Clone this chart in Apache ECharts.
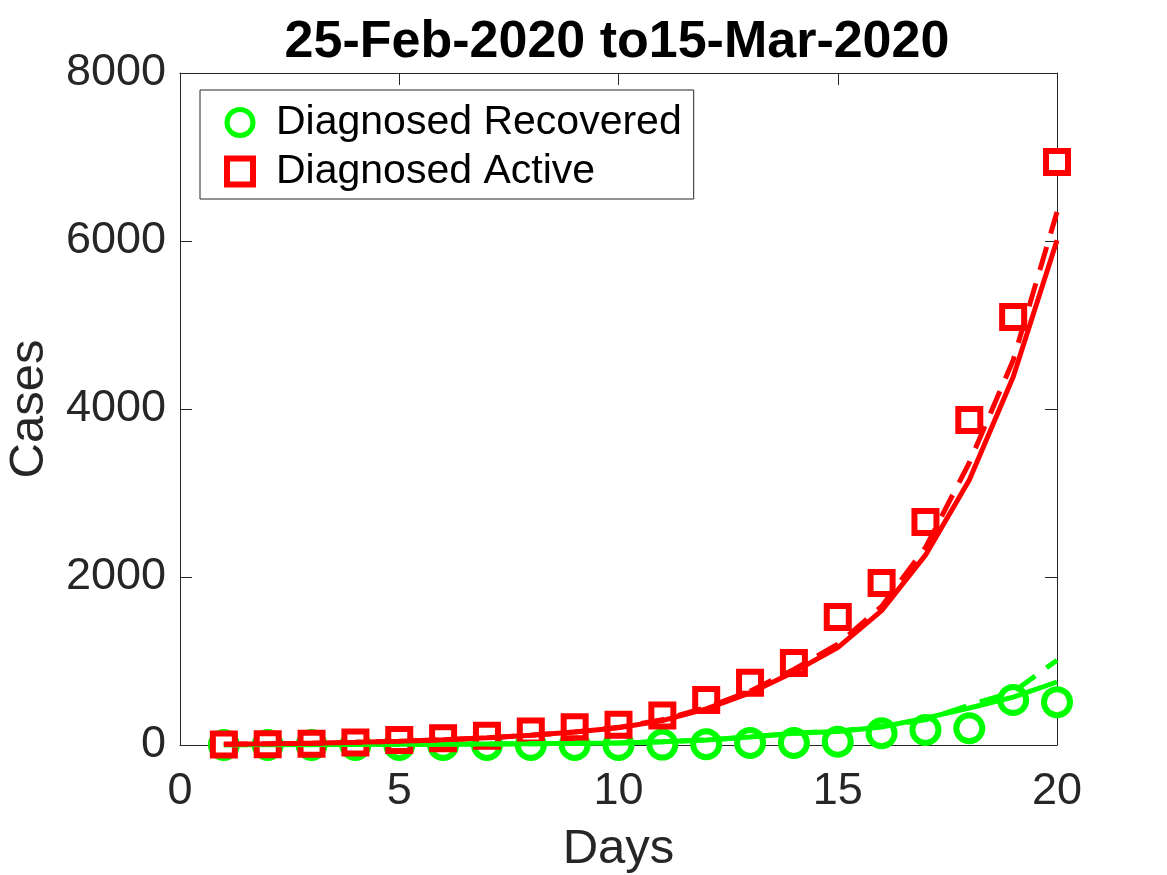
<!DOCTYPE html>
<html>
<head>
<meta charset="utf-8">
<script src="https://cdn.jsdelivr.net/npm/echarts@6/dist/echarts.min.js"></script>
<style>
  html, body { margin: 0; padding: 0; background: #fff; }
  #chart { width: 1167px; height: 875px; }
</style>
</head>
<body>
<div id="chart"></div>
<script>
var days = [1, 2, 3, 4, 5, 6, 7, 8, 9, 10, 11, 12, 13, 14, 15, 16, 17, 18, 19, 20];
// observed data (markers)
var recovered = [0, 0, 0, 0, 0, 0, 0, 0, 0, 0, 5, 10, 25, 25, 40, 140, 180, 200, 535, 510];
var active = [5, 10, 15, 30, 60, 80, 110, 160, 210, 240, 350, 535, 740, 975, 1525, 1930, 2655, 3870, 5095, 6940];
// model fits (lines)
var recoveredFit = [0, 2, 4, 6, 8, 10, 13, 16, 20, 25, 40, 60, 95, 140, 160, 215, 320, 440, 570, 750];
var recoveredFit2 = [0, 2, 4, 6, 8, 10, 13, 16, 20, 25, 40, 60, 95, 140, 165, 225, 300, 475, 630, 1010];
var activeFit = [10, 15, 22, 32, 45, 62, 85, 115, 155, 205, 290, 430, 620, 870, 1160, 1600, 2260, 3155, 4380, 6010];
var activeFit2 = [10, 15, 22, 32, 45, 62, 85, 115, 155, 210, 300, 445, 640, 900, 1200, 1650, 2350, 3360, 4580, 6345];
var xTicks = [0, 5, 10, 15, 20];
var yTicks = [0, 2000, 4000, 6000, 8000];

function pairs(ys) {
  return days.map(function (d, i) { return [d, ys[i]]; });
}

var chart = echarts.init(document.getElementById('chart'));
var font = 'Liberation Sans, Arial, Helvetica, sans-serif';
var ink = '#262626';

var axisCommon = {
  type: 'value',
  axisLine: { show: true, onZero: false, lineStyle: { color: ink, width: 1 } },
  axisTick: { show: true, inside: true, length: 12, lineStyle: { color: ink, width: 1 } },
  splitLine: { show: false }
};

var option = {
  animation: false,
  backgroundColor: '#fff',
  title: {
    text: '25-Feb-2020 to15-Mar-2020',
    left: 612, textAlign: 'center', top: 12,
    textStyle: { fontFamily: font, fontSize: 52, fontWeight: 'bold', color: '#000' }
  },
  legend: {
    orient: 'vertical',
    left: 200, top: 90,
    padding: [12, 12, 7, 24],
    itemGap: 8,
    itemWidth: 26, itemHeight: 26,
    borderColor: ink, borderWidth: 1,
    backgroundColor: '#fff',
    textStyle: { fontFamily: font, fontSize: 41, color: '#000', padding: [0, 0, 0, 18] },
    data: [
      { name: 'Diagnosed Recovered', icon: 'circle',
        itemStyle: { color: '#fff', borderColor: '#00ff00', borderWidth: 5 } },
      { name: 'Diagnosed Active', icon: 'rect',
        itemStyle: { color: '#fff', borderColor: '#ff0000', borderWidth: 6 } }
    ]
  },
  grid: { left: 180, right: 110, top: 73, bottom: 130, containLabel: false, outerBoundsMode: 'none' },
  xAxis: [
    Object.assign({}, axisCommon, {
      min: 0, max: 20, interval: 5,
      name: 'Days', nameLocation: 'middle', nameGap: 80,
      nameTextStyle: { fontFamily: font, fontSize: 49, color: ink },
      axisLabel: { fontFamily: font, fontSize: 45, color: ink, margin: 24,
        formatter: function (v) { return xTicks.indexOf(v) >= 0 ? String(v) : ''; } }
    }),
    Object.assign({}, axisCommon, {
      position: 'top', min: 0, max: 20, interval: 5,
      axisLabel: { show: false }
    })
  ],
  yAxis: [
    Object.assign({}, axisCommon, {
      min: 0, max: 8000, interval: 2000,
      name: 'Cases', nameLocation: 'middle', nameGap: 126, nameRotate: 90,
      nameTextStyle: { fontFamily: font, fontSize: 49, color: ink },
      axisLabel: { fontFamily: font, fontSize: 45, color: ink, margin: 14,
        formatter: function (v) { return yTicks.indexOf(v) >= 0 ? String(v) : ''; } }
    }),
    Object.assign({}, axisCommon, {
      position: 'right', min: 0, max: 8000, interval: 2000,
      axisLabel: { show: false }
    })
  ],
  series: [
    {
      name: 'Diagnosed Recovered', type: 'scatter', data: pairs(recovered),
      symbol: 'circle', symbolSize: 26, z: 2,
      itemStyle: { color: '#fff', opacity: 1, borderColor: '#00ff00', borderWidth: 6 }
    },
    {
      name: 'Diagnosed Active', type: 'scatter', data: pairs(active),
      symbol: 'rect', symbolSize: 22, z: 3,
      itemStyle: { color: '#fff', opacity: 1, borderColor: '#ff0000', borderWidth: 6 }
    },
    {
      name: 'recFit', type: 'line', data: pairs(recoveredFit), showSymbol: false, symbol: 'none', z: 4,
      lineStyle: { color: '#00ff00', width: 5 }
    },
    {
      name: 'recFit2', type: 'line', data: pairs(recoveredFit2), showSymbol: false, symbol: 'none', z: 4,
      lineStyle: { color: '#00ff00', width: 5, type: [24, 14] }
    },
    {
      name: 'actFit', type: 'line', data: pairs(activeFit), showSymbol: false, symbol: 'none', z: 5,
      lineStyle: { color: '#ff0000', width: 5 }
    },
    {
      name: 'actFit2', type: 'line', data: pairs(activeFit2), showSymbol: false, symbol: 'none', z: 5,
      lineStyle: { color: '#ff0000', width: 5, type: [24, 14] }
    }
  ]
};

chart.setOption(option);
</script>
</body>
</html>
